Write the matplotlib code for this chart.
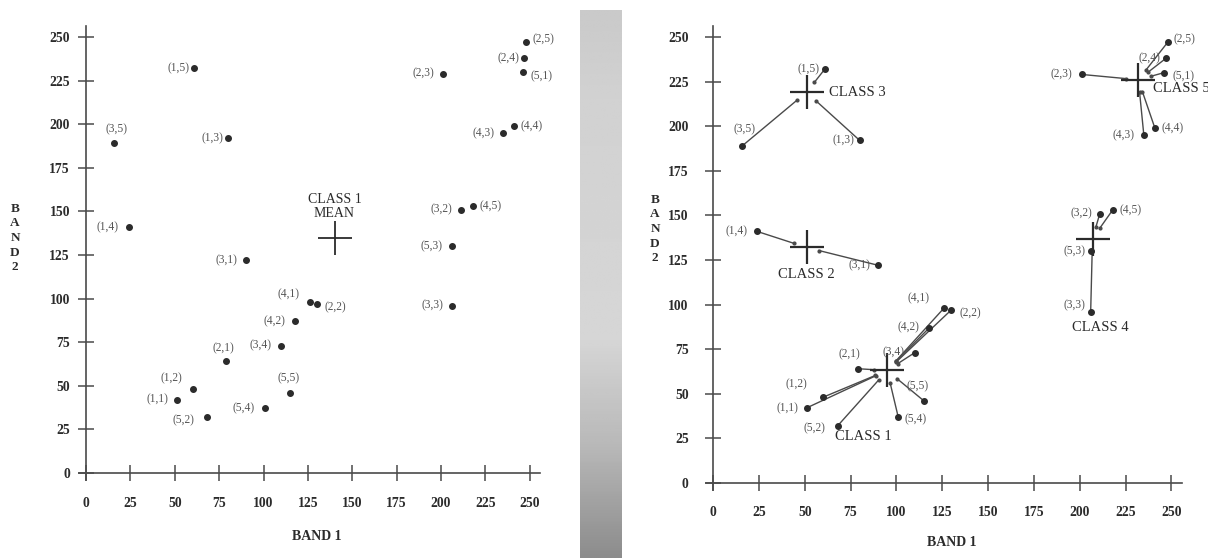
import numpy as np
import matplotlib
matplotlib.use('Agg')
import matplotlib.pyplot as plt

# pixels (row, column) of the 5x5 image
pixel_names = ['(1,1)', '(1,2)', '(1,3)', '(1,4)', '(1,5)',
               '(2,1)', '(2,2)', '(2,3)', '(2,4)', '(2,5)',
               '(3,1)', '(3,2)', '(3,3)', '(3,4)', '(3,5)',
               '(4,1)', '(4,2)', '(4,3)', '(4,4)', '(4,5)',
               '(5,1)', '(5,2)', '(5,3)', '(5,4)', '(5,5)']
band1 = [51, 60, 80, 24, 61,
         79, 130, 201, 247, 248,
         90, 211, 206, 110, 16,
         126, 118, 235, 241, 218,
         246, 68, 206, 101, 115]
band2 = [42, 48, 192, 141, 232,
         64, 97, 229, 238, 247,
         122, 151, 96, 73, 189,
         98, 87, 195, 199, 153,
         230, 32, 130, 37, 46]
pixel_class = [1, 1, 3, 2, 3,
               1, 1, 5, 5, 5,
               2, 4, 4, 1, 3,
               1, 1, 5, 5, 4,
               5, 1, 4, 1, 1]

overall_mean = (140, 135)
class_ids = [1, 2, 3, 4, 5]
class_mean_b1 = [95, 51, 51, 207, 232]
class_mean_b2 = [63, 132, 219, 137, 226]
class_labels = ['CLASS 1', 'CLASS 2', 'CLASS 3', 'CLASS 4', 'CLASS 5']
ticks = [0, 25, 50, 75, 100, 125, 150, 175, 200, 225, 250]

# label placement (pixel offsets, alignment)
off_left = {
    '(1,1)': (-8, 0, 'right'), '(1,2)': (-10, 11, 'right'), '(1,3)': (-5, 0, 'right'),
    '(1,4)': (-10, 0, 'right'), '(1,5)': (-5, 0, 'right'), '(2,1)': (-3, 13, 'center'),
    '(2,2)': (8, -3, 'left'), '(2,3)': (-9, 0, 'right'), '(2,4)': (-5, 0, 'right'),
    '(2,5)': (6, 3, 'left'), '(3,1)': (-8, 0, 'right'), '(3,2)': (-8, 0, 'right'),
    '(3,3)': (-8, 0, 'right'), '(3,4)': (-10, 0, 'right'), '(3,5)': (2, 14, 'center'),
    '(4,1)': (-10, 8, 'right'), '(4,2)': (-10, 0, 'right'), '(4,3)': (-9, 0, 'right'),
    '(4,4)': (7, 0, 'left'), '(4,5)': (7, 0, 'left'), '(5,1)': (8, -4, 'left'),
    '(5,2)': (-12, -3, 'right'), '(5,3)': (-9, 0, 'right'), '(5,4)': (-11, 0, 'right'),
    '(5,5)': (-2, 14, 'center'),
}
off_right = dict(off_left)
off_right.update({
    '(5,4)': (6, -2, 'left'), '(5,5)': (-6, 15, 'center'), '(2,1)': (-8, 14, 'center'),
    '(1,2)': (-16, 13, 'right'), '(3,5)': (2, 16, 'center'), '(5,3)': (-5, 0, 'right'),
    '(3,3)': (-5, 6, 'right'), '(4,1)': (-15, 10, 'right'),
})

ink = '#2b2b2b'
soft = '#4a4a4a'
serif = ['Liberation Serif', 'DejaVu Serif']

W, H = 1208, 558
fig = plt.figure(figsize=(W / 100, H / 100), dpi=100)


def px_axes(x0, x1, y0, y1):
    # pixel box (top-left origin) -> figure fraction
    return [x0 / W, 1 - y1 / H, (x1 - x0) / W, (y1 - y0) / H]


def style_axes(ax, xpad, ypad):
    ax.set_xlim(-4, 258)
    ax.set_ylim(-4, 258)
    for s in ['top', 'right']:
        ax.spines[s].set_visible(False)
    for s in ['left', 'bottom']:
        ax.spines[s].set_position(('data', 0))
        ax.spines[s].set_bounds(-4, 256)
        ax.spines[s].set_color(soft)
        ax.spines[s].set_linewidth(1.2)
    ax.set_xticks(ticks)
    ax.set_yticks(ticks)
    ax.tick_params(direction='inout', length=11, width=1.1, color=soft,
                   labelsize=9.8, labelcolor=ink)
    ax.tick_params(axis='x', pad=xpad)
    ax.tick_params(axis='y', pad=ypad)
    for lab in ax.get_xticklabels() + ax.get_yticklabels():
        lab.set_family(serif)
        lab.set_fontweight('bold')
    ax.patch.set_alpha(0)


def label_points(ax, offsets):
    for name, x, y in zip(pixel_names, band1, band2):
        dx, dy, ha = offsets[name]
        ax.annotate(name, (x, y), xytext=(dx * 0.72, dy * 0.72), textcoords='offset points',
                    ha=ha, va='center', fontsize=8.3, color='#555555', family=serif)


# left panel: raw pixels and the class 1 mean
ax1 = fig.add_axes(px_axes(78.9, 544, 23, 480))
style_axes(ax1, xpad=12, ypad=6)
ax1.plot(band1, band2, 'o', ms=4, color=ink, ls='none')
label_points(ax1, off_left)
ax1.plot(*overall_mean, marker='+', ms=24, mew=1.3, color=ink)
ax1.text(overall_mean[0], overall_mean[1] + 18, 'CLASS 1\nMEAN', ha='center', va='center',
         fontsize=10, color=ink, family=serif, linespacing=1.1)

# right panel: pixels pulled to their class means
ax2 = fig.add_axes(px_axes(705.7, 1186, 22.7, 490))
style_axes(ax2, xpad=11, ypad=12)
for x, y, c in zip(band1, band2, pixel_class):
    mx = class_mean_b1[c - 1]
    my = class_mean_b2[c - 1]
    d = np.hypot(x - mx, y - my)
    f = max(0.0, 1 - 7.0 / d)
    ex, ey = mx + (x - mx) * (1 - f), my + (y - my) * (1 - f)
    ax2.plot([x, ex], [y, ey], color=soft, lw=1.0)
    ax2.plot(ex, ey, 'o', ms=2, color=soft)
ax2.plot(band1, band2, 'o', ms=4, color=ink, ls='none')
label_points(ax2, off_right)
ax2.plot(class_mean_b1, class_mean_b2, '+', ms=24, mew=1.6, color=ink, ls='none')

class_text_pos = {'CLASS 1': (82, 26, 'center'), 'CLASS 2': (51, 117, 'center'),
                  'CLASS 3': (63, 219, 'left'), 'CLASS 4': (211, 87, 'center'),
                  'CLASS 5': (240, 221, 'left')}
for lab in class_labels:
    tx, ty, ha = class_text_pos[lab]
    ax2.text(tx, ty, lab, ha=ha, va='center', fontsize=10.5, color=ink,
             family=serif, clip_on=False)

# axis titles
for xc, yc in [(15, 238), (655, 229)]:
    fig.text(xc / W, 1 - yc / H, 'B\nA\nN\nD\n2', ha='center', va='center', fontsize=9.5,
             fontweight='bold', color=ink, family=serif, linespacing=1.3)
for xc, yc in [(317, 537), (952, 543)]:
    fig.text(xc / W, 1 - yc / H, 'BAND 1', ha='center', va='center', fontsize=10,
             fontweight='bold', color=ink, family=serif)

# grey page gutter between the two scans
axg = fig.add_axes(px_axes(580, 622, 10, 558))
shade = np.interp(np.linspace(0, 1, 200), [0, 0.15, 0.6, 0.8, 1.0],
                  [0.79, 0.82, 0.84, 0.72, 0.55])
axg.imshow(shade[:, None], aspect='auto', cmap='gray', vmin=0, vmax=1,
           interpolation='bilinear')
axg.axis('off')

fig.savefig('out.png', dpi=100)
